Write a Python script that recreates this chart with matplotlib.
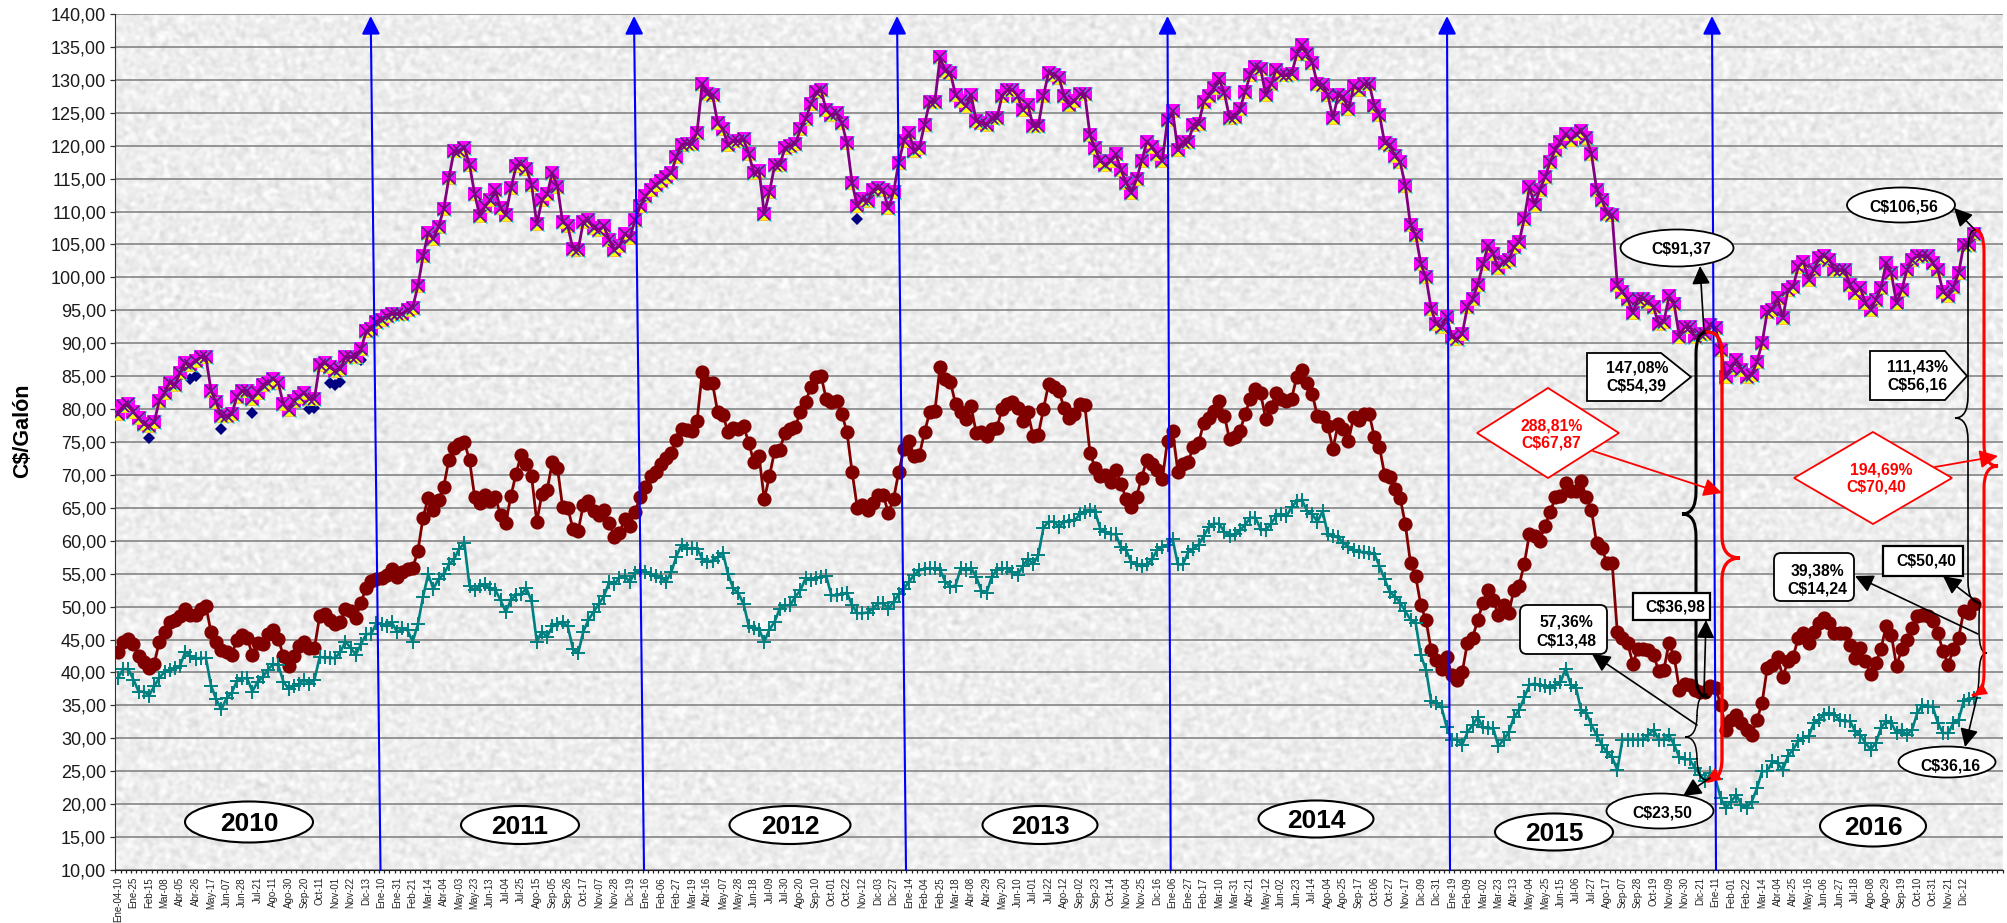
"""Weekly fuel price per gallon (C$/Galón), 2010-2016, with year ovals and callouts."""
import matplotlib
matplotlib.use("Agg")
import matplotlib.pyplot as plt
import numpy as np
from matplotlib.patches import Ellipse, FancyBboxPatch, PathPatch, Polygon, Rectangle
from matplotlib.path import Path

plt.rcParams["font.family"] = ["Liberation Sans", "DejaVu Sans"]

N_CATS = 365

# one label every third week
WEEK_LABELS = [
    "Ene-04-10", "Ene-25", "Feb-15", "Mar-08", "Abr-05", "Abr-26", "May-17", "Jun-07", "Jun-28", "Jul-21",
    "Ago-11", "Ago-30", "Sep-20", "Oct-11", "Nov-01", "Nov-22", "Dic-13", "Ene-10", "Ene-31", "Feb-21",
    "Mar-14", "Abr-04", "May-03", "May-23", "Jun-13", "Jul-04", "Jul-25", "Ago-15", "Sep-05", "Sep-26",
    "Oct-17", "Nov-07", "Nov-28", "Dic-19", "Ene-16", "Feb-06", "Feb-27", "Mar-19", "Abr-16", "May-07",
    "May-28", "Jun-18", "Jul-09", "Jul-30", "Ago-20", "Sep-10", "Oct-01", "Oct-22", "Nov-12", "Dic-03",
    "Dic-27", "Ene-14", "Feb-04", "Feb-25", "Mar-18", "Abr-08", "Abr-29", "May-20", "Jun-10", "Jul-01",
    "Jul-22", "Ago-12", "Sep-02", "Sep-23", "Oct-14", "Nov-04", "Nov-25", "Dic-16", "Ene-06", "Ene-27",
    "Feb-17", "Mar-10", "Mar-31", "Abr-21", "May-12", "Jun-02", "Jun-23", "Jul-14", "Ago-04", "Ago-25",
    "Sep-17", "Oct-06", "Oct-27", "Nov-17", "Dic-09", "Dic-31", "Ene-19", "Feb-09", "Mar-02", "Mar-23",
    "Abr-13", "May-04", "May-25", "Jun-15", "Jul-06", "Jul-27", "Ago-17", "Sep-07", "Sep-28", "Oct-19",
    "Nov-09", "Nov-30", "Dic-21", "Ene-11", "Feb-01", "Feb-22", "Mar-14", "Abr-04", "Abr-25", "May-16",
    "Jun-06", "Jun-27", "Jul-18", "Ago-08", "Ago-29", "Sep-19", "Oct-10", "Oct-31", "Nov-21", "Dic-12",
]

TOP = [
    79.2, 80.4, 80.7, 79.5, 78.6, 77.7, 77.4, 78.0, 81.3, 82.5, 84.0, 83.7, 85.5, 87.0, 86.7, 87.3, 87.9, 87.9, 82.8, 81.0,
    78.9, 78.9, 79.2, 81.9, 82.8, 82.8, 81.6, 82.5, 83.7, 84.0, 84.6, 84.0, 80.7, 79.8, 81.3, 81.9, 82.5, 81.6, 81.6, 86.7,
    87.0, 86.4, 85.8, 86.1, 87.9, 87.9, 87.9, 89.1, 91.8, 92.1, 93.3, 93.6, 94.2, 94.5, 94.5, 94.5, 95.1, 95.4, 98.7, 103.2,
    106.8, 105.9, 107.7, 110.4, 115.1, 119.2, 119.2, 119.7, 117.1, 112.6, 109.3, 110.8, 111.7, 113.2, 110.5, 109.5, 113.5, 116.9, 117.2, 116.5,
    114.1, 108.1, 111.7, 112.6, 115.9, 113.8, 108.4, 107.8, 104.3, 104.2, 108.4, 108.7, 107.5, 107.2, 107.8, 105.7, 104.2, 104.8, 106.6, 106.0,
    108.7, 110.8, 112.3, 113.2, 114.1, 114.7, 115.3, 115.9, 118.3, 120.1, 120.3, 120.3, 122.0, 129.4, 127.9, 127.7, 123.4, 122.5, 120.1, 120.7,
    120.7, 121.0, 118.8, 115.8, 116.2, 109.7, 112.9, 117.0, 117.0, 119.7, 120.0, 120.3, 122.5, 124.1, 126.3, 128.1, 128.4, 125.4, 124.6, 124.9,
    123.5, 120.4, 114.3, 110.8, 111.9, 111.6, 113.2, 113.5, 113.2, 110.5, 112.9, 117.4, 120.7, 122.0, 119.2, 119.7, 123.2, 126.7, 126.7, 133.4,
    131.4, 131.1, 127.7, 126.8, 126.0, 127.7, 123.8, 123.5, 123.2, 124.2, 124.2, 127.6, 128.4, 128.5, 127.6, 125.4, 126.2, 123.0, 123.0, 127.6,
    131.1, 130.8, 130.3, 127.6, 126.2, 126.8, 127.8, 127.8, 121.6, 119.6, 117.7, 117.1, 117.7, 118.7, 116.3, 114.4, 112.8, 114.9, 117.7, 120.6,
    119.8, 118.7, 117.7, 123.9, 125.2, 119.3, 120.6, 120.6, 123.1, 123.3, 126.6, 127.6, 128.8, 130.1, 128.0, 124.2, 124.4, 125.5, 128.2, 130.7,
    132.0, 131.7, 127.7, 129.3, 131.5, 130.7, 130.7, 130.9, 133.9, 135.3, 133.9, 132.6, 129.3, 129.2, 127.7, 124.2, 127.7, 127.4, 125.5, 129.0,
    128.5, 129.3, 129.4, 126.1, 124.7, 120.4, 120.1, 118.5, 117.5, 113.9, 107.9, 106.5, 102.0, 100.0, 95.2, 92.9, 92.5, 94.0, 91.0, 90.6,
    91.4, 95.5, 96.7, 98.9, 102.0, 104.8, 103.5, 101.4, 102.4, 102.7, 104.6, 105.4, 108.9, 113.7, 111.0, 113.3, 115.2, 117.5, 119.4, 120.5,
    121.8, 120.9, 121.8, 122.2, 121.2, 118.7, 113.3, 111.8, 109.7, 109.5, 98.8, 97.8, 96.7, 94.6, 96.7, 96.7, 96.3, 95.5, 92.9, 93.3,
    97.1, 95.9, 91.0, 92.5, 92.5, 91.0, 91.4, 91.37, 92.8, 92.3, 89.0, 84.9, 86.2, 87.5, 86.0, 84.9, 85.2, 87.2, 90.0, 94.8,
    95.1, 96.8, 93.8, 98.1, 98.6, 101.6, 102.4, 99.6, 101.1, 102.9, 103.3, 102.7, 101.1, 101.1, 101.1, 98.9, 97.6, 98.4, 96.1, 95.1,
    96.6, 98.4, 102.2, 100.6, 96.1, 98.1, 101.1, 102.7, 103.2, 103.3, 103.2, 102.2, 101.1, 97.8, 97.1, 98.6, 100.6, 104.9, 104.9, 106.56,
]

MID = [
    43.1, 44.7, 45.1, 44.3, 42.5, 41.6, 40.7, 41.3, 44.7, 46.1, 47.7, 47.9, 48.5, 49.7, 48.8, 48.8, 49.7, 50.1, 46.1, 44.6,
    43.4, 43.1, 42.7, 44.9, 45.7, 45.2, 42.7, 44.5, 44.3, 45.8, 46.4, 45.1, 42.5, 41.0, 42.5, 44.0, 44.6, 43.7, 43.7, 48.5,
    48.9, 47.9, 47.3, 47.6, 49.7, 49.4, 48.3, 50.6, 52.9, 53.9, 54.2, 54.4, 54.8, 55.7, 54.5, 55.3, 55.7, 55.9, 58.4, 63.5,
    66.5, 64.7, 66.2, 68.2, 72.3, 74.1, 74.7, 75.0, 72.2, 66.6, 65.7, 66.9, 66.0, 66.6, 63.9, 62.7, 66.8, 70.2, 73.1, 71.6,
    69.8, 62.9, 67.1, 67.7, 71.9, 71.1, 65.1, 65.0, 61.8, 61.5, 65.4, 66.0, 64.5, 63.9, 64.6, 62.7, 60.6, 61.2, 63.3, 62.3,
    64.4, 66.6, 68.1, 69.9, 70.5, 71.7, 72.6, 73.4, 75.3, 77.0, 76.8, 76.7, 78.2, 85.6, 83.9, 83.9, 79.5, 79.1, 76.5, 77.1,
    77.0, 77.4, 74.9, 71.9, 72.8, 66.3, 69.8, 73.6, 73.8, 76.4, 77.0, 77.3, 79.6, 81.0, 83.4, 84.8, 85.0, 81.5, 81.0, 81.3,
    79.3, 76.5, 70.4, 65.0, 65.5, 64.7, 65.8, 67.0, 67.0, 64.2, 66.3, 70.4, 73.9, 75.2, 72.8, 73.0, 76.5, 79.5, 79.7, 86.4,
    84.5, 84.1, 80.8, 79.6, 78.5, 80.4, 76.4, 76.5, 75.9, 76.9, 77.2, 80.0, 80.7, 81.0, 80.1, 78.2, 79.5, 75.9, 76.1, 80.0,
    83.8, 83.4, 82.7, 80.2, 78.6, 79.3, 80.8, 80.6, 73.4, 71.0, 69.9, 70.0, 68.9, 70.7, 68.6, 66.4, 65.1, 66.7, 69.6, 72.3,
    71.6, 70.7, 69.4, 75.2, 76.6, 70.5, 71.6, 72.0, 74.3, 74.8, 77.9, 78.6, 79.7, 81.2, 79.0, 75.4, 75.7, 76.6, 79.2, 81.6,
    83.0, 82.4, 78.5, 80.3, 82.4, 81.6, 81.3, 81.6, 84.9, 85.9, 83.9, 82.3, 78.9, 78.8, 77.4, 74.0, 77.7, 76.9, 75.2, 78.8,
    78.4, 79.2, 79.3, 75.8, 74.2, 70.0, 69.7, 67.8, 66.5, 62.5, 56.6, 54.6, 50.2, 47.9, 43.4, 41.9, 40.6, 42.3, 39.6, 38.9,
    40.0, 44.5, 45.3, 47.9, 50.6, 52.5, 51.0, 48.7, 50.2, 49.1, 52.5, 53.2, 56.5, 61.0, 60.8, 60.0, 62.3, 64.3, 66.6, 66.8,
    68.7, 67.6, 67.6, 69.1, 66.6, 64.6, 59.6, 58.9, 56.6, 56.6, 46.1, 45.2, 44.5, 41.3, 43.6, 43.6, 43.4, 42.7, 40.2, 40.4,
    44.5, 42.4, 37.4, 38.3, 38.1, 37.4, 37.1, 36.98, 37.9, 37.6, 35.1, 31.3, 32.8, 33.6, 32.3, 31.3, 30.5, 32.8, 35.4, 40.7,
    41.2, 42.4, 39.3, 41.7, 42.4, 45.2, 46.0, 44.5, 46.2, 47.5, 48.3, 47.5, 46.0, 46.0, 46.0, 44.1, 42.2, 43.7, 41.7, 39.8,
    41.4, 43.6, 47.1, 45.7, 41.0, 43.5, 45.0, 46.7, 48.5, 48.8, 48.5, 47.8, 46.0, 43.2, 41.2, 43.5, 45.2, 49.3, 49.1, 50.40,
]

BOTTOM = [
    39.2, 40.5, 40.5, 38.9, 37.1, 37.1, 36.5, 37.9, 39.2, 40.1, 40.4, 40.7, 41.0, 43.1, 42.5, 42.1, 42.2, 42.2, 38.0, 35.9,
    34.4, 36.1, 36.9, 38.7, 39.1, 39.1, 37.1, 38.6, 39.3, 40.4, 41.3, 41.1, 38.6, 37.5, 37.9, 38.3, 38.9, 38.3, 38.9, 42.3,
    42.3, 42.2, 42.2, 43.1, 44.7, 43.7, 42.7, 44.3, 45.8, 45.9, 47.5, 47.3, 47.0, 47.6, 46.1, 46.7, 46.4, 44.7, 47.3, 51.5,
    54.9, 52.7, 54.2, 54.9, 56.4, 57.2, 58.8, 59.6, 53.1, 52.5, 53.1, 53.4, 52.8, 52.5, 51.0, 49.2, 51.0, 51.8, 51.9, 52.8,
    50.8, 44.7, 46.2, 45.4, 47.0, 47.4, 47.7, 47.0, 43.6, 42.9, 46.2, 48.0, 49.2, 50.4, 51.6, 53.7, 53.4, 54.4, 54.6, 53.8,
    55.1, 55.5, 55.2, 55.0, 54.6, 54.4, 53.8, 55.2, 57.6, 59.4, 58.8, 58.9, 58.8, 57.3, 56.8, 57.0, 57.5, 58.2, 54.9, 52.8,
    52.0, 50.4, 47.1, 46.8, 46.5, 44.7, 46.5, 47.7, 49.7, 50.2, 50.2, 51.5, 52.5, 54.3, 54.1, 54.3, 54.5, 54.6, 51.7, 51.7,
    51.9, 52.1, 50.2, 49.0, 49.0, 49.1, 49.7, 50.5, 50.5, 49.7, 50.7, 51.9, 52.7, 53.8, 54.8, 55.5, 55.7, 55.8, 55.8, 55.6,
    53.8, 53.0, 53.2, 55.8, 55.5, 55.9, 54.5, 52.4, 52.1, 54.5, 55.6, 55.8, 55.8, 55.3, 54.8, 56.1, 57.3, 56.4, 57.8, 62.0,
    62.9, 62.9, 62.1, 62.9, 63.0, 63.1, 64.0, 64.4, 64.6, 64.4, 61.8, 61.4, 61.0, 61.0, 59.0, 58.6, 56.7, 56.4, 56.1, 56.4,
    57.2, 58.6, 59.0, 59.4, 60.2, 56.4, 56.4, 58.3, 58.8, 59.4, 60.7, 62.1, 62.6, 62.6, 61.3, 60.7, 61.0, 61.6, 62.4, 63.5,
    63.5, 61.8, 61.6, 62.6, 63.7, 64.0, 63.7, 65.1, 66.0, 66.2, 64.5, 64.0, 62.9, 64.5, 61.0, 60.7, 60.5, 59.7, 59.1, 58.6,
    58.3, 58.3, 58.1, 58.0, 56.1, 54.2, 52.2, 51.5, 50.6, 49.3, 48.0, 47.5, 42.6, 40.4, 35.6, 35.4, 34.7, 31.7, 29.8, 29.8,
    29.0, 30.9, 32.0, 33.2, 31.7, 31.5, 31.5, 28.8, 29.8, 30.9, 33.2, 34.3, 36.2, 38.1, 38.3, 38.1, 38.0, 37.7, 38.1, 38.5,
    40.6, 38.1, 37.7, 34.3, 33.9, 32.0, 30.5, 29.0, 27.9, 27.1, 25.2, 29.8, 29.8, 29.8, 29.8, 29.8, 30.5, 31.3, 29.8, 29.8,
    30.5, 29.0, 27.1, 26.8, 26.8, 25.5, 24.5, 23.50, 24.7, 23.8, 20.9, 19.4, 20.4, 21.4, 19.9, 19.4, 20.4, 22.4, 25.0, 25.0,
    26.5, 26.2, 25.2, 27.3, 28.3, 29.6, 30.1, 30.3, 32.3, 32.8, 33.6, 33.8, 33.6, 32.8, 32.6, 32.6, 31.1, 30.5, 29.3, 28.3,
    29.3, 31.6, 32.6, 32.3, 30.8, 31.3, 30.5, 31.3, 33.8, 35.1, 34.8, 34.8, 32.3, 30.8, 30.8, 32.3, 32.8, 35.6, 35.9, 36.16,
]

# weeks where the navy diamonds of the hidden series show under the top line
NAVY_WEEKS = [6, 14, 15, 20, 26, 37, 38, 41, 42, 43, 47, 143]
NAVY_VALUES = [75.6, 84.6, 85.0, 77.0, 79.4, 80.0, 80.1, 84.0, 83.6, 84.1, 87.4, 108.8]

YEARS = ["2010", "2011", "2012", "2013", "2014", "2015", "2016"]

Y_TICKS = list(range(10, 145, 5))

# overlay annotations are placed in image pixels
YEAR_OVALS = [(249, 822, 128, 41), (520, 825, 118, 38), (790, 825, 121, 38), (1040, 825, 115, 38),
              (1316, 819, 115, 37), (1554, 832, 118, 37), (1873, 826, 106, 41)]
BLUE_LINES = [(380.5, 870, 370.7), (644, 870, 634), (906, 870, 897), (1170.7, 870, 1167.5),
              (1450, 870, 1447), (1716, 870, 1712)]


def make_texture(h=856, w=1887, seed=7):
    # fine speckled grey paper behind the plot (band-passed noise)
    rng = np.random.default_rng(seed)
    noise = rng.normal(size=(h, w))
    fy = np.fft.fftfreq(h)[:, None]
    fx = np.fft.fftfreq(w)[None, :]
    f2 = fx ** 2 + fy ** 2
    spec = np.fft.fft2(noise)
    soft = np.fft.ifft2(spec * (np.exp(-f2 * 60) - np.exp(-f2 * 1500))).real
    soft = soft / soft.std()
    return np.clip(0.932 + 0.022 * soft, 0.8, 0.985)


def brace(ov, start, xv, tip, end, color, lw):
    x0, y0 = start
    tx, ty = tip
    x1, y1 = end
    r = 22
    verts = [(x0, y0), (xv, y0), (xv, y0 + r),
             (xv, ty - r), (xv, ty), (tx, ty), (xv, ty), (xv, ty + r),
             (xv, y1 - r), (xv, y1), (x1, y1)]
    codes = [Path.MOVETO, Path.CURVE3, Path.CURVE3,
             Path.LINETO, Path.CURVE3, Path.CURVE3, Path.CURVE3, Path.CURVE3,
             Path.LINETO, Path.CURVE3, Path.CURVE3]
    ov.add_patch(PathPatch(Path(verts, codes), fc="none", ec=color, lw=lw, capstyle="round", zorder=3))


def arrow(ov, start, end, color="black", lw=1.2, zorder=5):
    ov.annotate("", xy=end, xytext=start, zorder=zorder,
                arrowprops=dict(arrowstyle="-|>,head_length=1.1,head_width=0.55", color=color,
                                lw=lw, shrinkA=0, shrinkB=0, mutation_scale=10))


def label(ov, x, y, text, color="black", size=11.3):
    ov.text(x, y, text, ha="center", va="center", fontsize=size, fontweight="bold", color=color, zorder=7)


def main():
    for name, vals in (("TOP", TOP), ("MID", MID), ("BOTTOM", BOTTOM)):
        if len(vals) != 360:
            raise ValueError(f"{name} has {len(vals)} values")

    fig = plt.figure(figsize=(20.07, 9.23), dpi=100)
    ax = fig.add_axes([115.4 / 2007, 1 - 870 / 923, (2002.5 - 115.4) / 2007, (870 - 14) / 923])
    x = np.arange(len(TOP))

    ax.imshow(make_texture(), extent=(-0.5, N_CATS - 0.5, 10, 140), aspect="auto", cmap="gray",
              vmin=0, vmax=1, zorder=0, interpolation="bilinear")
    for v in Y_TICKS:
        ax.axhline(v, color="#808080", lw=1.15, zorder=1)

    # top block: several near-identical series stacked on each other
    ax.plot(NAVY_WEEKS, NAVY_VALUES, "D", color="#000080", ms=6.2, mew=0, zorder=2)
    ax.plot(x, TOP, "s", color="#FF00FF", ms=10.2, mew=0, zorder=3)
    tri_down = Path([(-1, -1), (1, -1), (0, 0.1), (-1, -1)])
    ax.plot(x, TOP, ls="none", marker=tri_down, color="#FFFF00", ms=9.0, mew=0, zorder=3.2)
    ax.plot(x, TOP, "x", color="#00C8D8", ms=10.0, mew=1.0, zorder=3.4)
    ax.plot(x, TOP, "-x", color="#800080", lw=2.0, ms=9.0, mew=1.2, zorder=3.6)

    ax.plot(x, MID, "-o", color="#800000", lw=2.0, ms=10.2, mew=0, zorder=3)
    ax.plot(x, BOTTOM, "-+", color="#008080", lw=1.9, ms=10, mew=1.4, zorder=3)

    ax.set_xlim(-0.5, N_CATS - 0.5)
    ax.set_ylim(10, 140)
    ax.set_yticks(Y_TICKS)
    ax.set_yticklabels([f"{v},00" for v in Y_TICKS], fontsize=13, color="#1a1a1a")
    ax.tick_params(axis="y", length=3.6, width=0.9, color="#333333", pad=3)
    ax.set_xticks(np.arange(0, 3 * len(WEEK_LABELS), 3))
    ax.set_xticklabels(WEEK_LABELS, rotation=90, fontsize=7, color="#222222", ha="center", va="top")
    ax.tick_params(axis="x", which="major", length=0, pad=5)
    ax.set_xticks(np.arange(-0.5, N_CATS, 1), minor=True)
    ax.tick_params(axis="x", which="minor", length=2.2, width=0.9, color="#222222")
    ax.spines["top"].set_visible(False)
    ax.spines["right"].set_visible(False)
    ax.spines["left"].set_color("#333333")
    ax.spines["bottom"].set_color("#222222")
    fig.text(23 / 2007, 1 - 431 / 923, "C$/Galón", rotation=90, ha="center", va="center",
             fontsize=15.5, fontweight="bold")

    # overlay in image pixels for shapes sitting on top of the chart
    ov = fig.add_axes([0, 0, 1, 1], zorder=5)
    ov.set_xlim(0, 2007)
    ov.set_ylim(923, 0)
    ov.axis("off")

    for xb, yb, xt in BLUE_LINES:
        arrow(ov, (xb, yb), (xt, 16), color="#0000FF", lw=1.5, zorder=2)

    for year, (cx, cy, w, h) in zip(YEARS, YEAR_OVALS):
        ov.add_patch(Ellipse((cx, cy), w, h, fc="white", ec="black", lw=1.5, zorder=4))
        ov.text(cx, cy + 2, year, ha="center", va="center", fontsize=19, fontweight="bold", zorder=7)

    # braces
    brace(ov, (1707, 332), 1696, (1682, 514), (1708, 697), "black", 2.2)
    brace(ov, (1707, 332), 1722, (1740, 558), (1707, 781), "#FF0000", 2.4)
    brace(ov, (1707, 694), 1697, (1685, 737), (1707, 780), "black", 1.1)
    brace(ov, (1975, 230), 1968, (1955, 418), (1980, 603), "black", 1.2)
    brace(ov, (1980, 603), 1979, (1987, 653), (1973, 697), "black", 1.1)
    brace(ov, (1975, 230), 1984, (1998, 466), (1973, 695), "#FF0000", 2.2)
    ov.add_patch(Polygon([(1705, 782), (1722, 780), (1715, 768)], fc="#FF0000", ec="none", zorder=4))
    ov.add_patch(Polygon([(1973, 696), (1988, 694), (1982, 683)], fc="#FF0000", ec="none", zorder=4))

    # arrows
    arrow(ov, (1704, 332), (1700, 266))
    arrow(ov, (1975, 230), (1954, 208))
    arrow(ov, (1704, 693), (1706, 620))
    arrow(ov, (1977, 602), (1943, 576))
    arrow(ov, (1697, 725), (1592, 654))
    arrow(ov, (1978, 634), (1855, 576))
    arrow(ov, (1710, 778), (1683, 796))
    arrow(ov, (1977, 697), (1965, 747))
    arrow(ov, (1593, 451), (1722, 493), color="#FF0000", lw=1.3)
    arrow(ov, (1935, 467), (1998, 456), color="#FF0000", lw=1.3)

    # price ovals
    ov.add_patch(Ellipse((1901, 205), 108, 35, fc="white", ec="black", lw=1.3, zorder=6))
    label(ov, 1904, 207, "C$106,56")
    ov.add_patch(Ellipse((1677, 248), 113, 37, fc="white", ec="black", lw=1.3, zorder=6))
    label(ov, 1681, 249, "C$91,37")
    ov.add_patch(Ellipse((1660, 811), 107, 35, fc="white", ec="black", lw=1.3, zorder=6))
    label(ov, 1662, 813, "C$23,50")
    ov.add_patch(Ellipse((1947, 762), 97, 31, fc="white", ec="black", lw=1.3, zorder=6))
    label(ov, 1950, 766, "C$36,16")

    # pentagon callouts
    ov.add_patch(Polygon([(1587, 353), (1661, 353), (1691, 377), (1661, 401), (1587, 401)],
                         fc="white", ec="black", lw=1.3, zorder=6))
    label(ov, 1637, 368, "147,08%")
    label(ov, 1636, 386, "C$54,39")
    ov.add_patch(Polygon([(1870, 351), (1945, 351), (1967, 376), (1945, 400), (1870, 400)],
                         fc="white", ec="black", lw=1.3, zorder=6))
    label(ov, 1917, 367, "111,43%")
    label(ov, 1917, 385, "C$56,16")

    # red diamonds
    ov.add_patch(Polygon([(1477, 433), (1548, 388), (1619, 433), (1548, 478)],
                         fc="white", ec="#FF0000", lw=1.3, zorder=6))
    label(ov, 1552, 426, "288,81%", color="#FF0000")
    label(ov, 1551, 443, "C$67,87", color="#FF0000")
    ov.add_patch(Polygon([(1794, 478), (1873, 432), (1952, 478), (1873, 524)],
                         fc="white", ec="#FF0000", lw=1.3, zorder=6))
    label(ov, 1881, 470, "194,69%", color="#FF0000")
    label(ov, 1876, 487, "C$70,40", color="#FF0000")

    # boxes
    ov.add_patch(Rectangle((1633, 593), 77, 27, fc="white", ec="black", lw=1.6, zorder=6))
    label(ov, 1675, 607, "C$36,98")
    ov.add_patch(Rectangle((1883, 546), 80, 30, fc="white", ec="black", lw=1.6, zorder=6))
    label(ov, 1926, 561, "C$50,40")
    ov.add_patch(FancyBboxPatch((1520, 605), 87, 49, boxstyle="round,pad=0,rounding_size=7",
                                fc="white", ec="black", lw=1.3, zorder=6))
    ov.add_patch(FancyBboxPatch((1774, 553), 80, 48, boxstyle="round,pad=0,rounding_size=7",
                                fc="white", ec="black", lw=1.3, zorder=6))
    label(ov, 1566, 622, "57,36%")
    label(ov, 1566, 641, "C$13,48")
    label(ov, 1817, 571, "39,38%")
    label(ov, 1817, 589, "C$14,24")

    fig.savefig("out.png", dpi=100)
    plt.close(fig)


if __name__ == "__main__":
    main()
